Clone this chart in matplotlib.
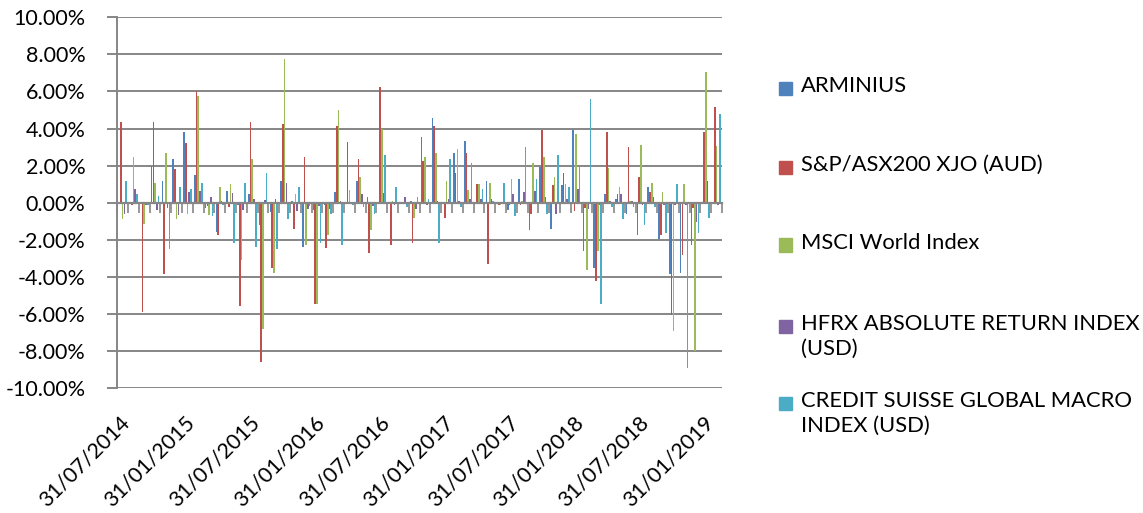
import numpy as np
import pandas as pd
import matplotlib
matplotlib.use("Agg")
import matplotlib.pyplot as plt
from matplotlib.patches import Rectangle
from matplotlib.ticker import FuncFormatter

# Monthly returns (%), month ends Jul 2014 - Feb 2019
months = pd.date_range("2014-07-31", periods=56, freq="ME")

arminius = [0.0, 0.0, 0.0, 2.0, 1.17, 2.34, 3.82, 1.5, -0.3, -1.57,
            0.65, -0.1, 0.45, -1.2, -0.49, 1.19, 0.1, -2.37, -0.4, -0.1,
            0.56, 0.0, 1.19, 0.32, 0.0, 0.0, 0.05, 0.1, 3.53, 4.55,
            0.0, 2.67, 3.31, 0.0, 1.19, 0.0, -0.4, 1.28, -1.44, 1.93,
            -1.42, 0.95, 3.93, -2.6, -3.51, 0.45, 0.23, -0.58, -1.75, 0.86,
            -1.96, -3.85, -3.76, -2.28, 0.0, 0.0]
asx200 = [4.34, -0.1, -5.88, 4.35, -3.86, 1.8, 3.2, 6.05, -0.2, -1.75,
          -0.25, -5.55, 4.35, -8.58, -3.54, 4.24, -1.42, 2.45, -5.43, -2.46,
          4.14, 3.3, 2.34, -2.68, 6.22, -2.25, 0.0, -2.16, 2.25, 4.14,
          -0.8, 1.62, 2.67, 1.0, -3.31, -0.13, -0.13, -0.1, -0.58, 3.93,
          0.95, 1.6, -0.45, -0.3, -4.2, 3.82, 0.45, 3.0, 1.4, 0.56,
          -1.75, -6.06, -2.82, -0.3, 3.82, 5.18]
msci = [-0.9, 2.45, -1.12, 1.08, 2.67, -0.9, -0.58, 5.73, -0.67, 0.86,
        1.0, -3.1, 2.34, -6.78, -3.76, 7.73, 0.45, -2.25, -5.43, -1.75,
        5.0, 0.68, 1.4, -1.47, 4.0, 0.1, 0.0, -0.8, 2.45, 2.67,
        1.19, 2.88, 0.68, 1.0, 1.08, -0.13, 1.28, 0.1, 2.16, 2.45,
        1.4, 1.0, 3.7, -3.6, -2.6, 1.85, 0.86, 0.1, 3.1, 1.08,
        0.56, -6.9, 1.0, -7.98, 7.07, 3.06]
hfrx = [-0.58, 0.77, -0.1, -0.4, -0.3, -0.67, 0.56, 0.65, 0.32, 0.1,
        0.54, -0.4, 0.23, 0.14, 0.23, 1.08, -0.45, -0.36, -0.2, -0.36,
        0.1, 0.0, 0.45, -0.16, 0.54, -0.13, 0.32, -0.36, -0.13, 0.1,
        0.23, 0.1, 0.23, 0.23, 0.23, 0.0, 0.45, 0.6, 0.65, 0.32,
        -0.58, 0.23, 0.77, -0.36, -0.1, 0.1, 0.45, 0.1, -0.1, 0.32,
        -0.1, -0.13, -0.1, -1.03, 1.19, -0.13]
cs_macro = [1.19, 0.45, -0.1, 0.36, -2.49, 0.86, 0.77, 1.08, -0.7, -0.1,
            -2.16, 1.08, -2.37, 1.62, -2.48, -0.9, 0.86, -0.2, -2.16, -0.58,
            -2.25, -0.1, -0.25, -0.58, 2.55, 0.86, -0.25, 0.32, 0.23, -2.16,
            2.34, -0.25, 2.12, 0.77, 0.1, 1.08, -0.7, 3.0, 1.28, -0.58,
            2.55, 0.86, 2.0, 5.6, -5.43, -0.25, -0.9, -0.25, -1.2, -0.25,
            -1.62, 1.0, -8.9, -1.62, -0.8, 4.77]

names = ["ARMINIUS", "S&P/ASX200 XJO (AUD)", "MSCI World Index",
         "HFRX ABSOLUTE RETURN INDEX\n(USD)",
         "CREDIT SUISSE GLOBAL MACRO\nINDEX (USD)"]
colors = ["#4F81BD", "#C0504D", "#9BBB59", "#8064A2", "#4BACC6"]
all_series = [arminius, asx200, msci, hfrx, cs_macro]

plt.rcParams["font.family"] = ["Lato", "DejaVu Sans"]
plt.rcParams["axes.unicode_minus"] = False
grey = "#868686"

fig = plt.figure(figsize=(11.43, 5.13), dpi=100)
ax = fig.add_axes([0.1026, 0.2431, 0.5290, 0.7232])

x = np.arange(len(months))
for i, (vals, c) in enumerate(zip(all_series, colors)):
    ax.bar(x + (i - 2) * 0.16, vals, width=0.15, color=c, zorder=3)

yticks = np.arange(-10, 11, 2)
ax.set_xlim(-0.5, len(months) - 0.5)
ax.set_ylim(-10, 10)
ax.set_yticks(yticks)
ax.yaxis.set_major_formatter(FuncFormatter(lambda v, p: f"{v:.2f}%"))
ax.set_axisbelow(True)
ax.yaxis.grid(True, color=grey, linewidth=1.4)

for s in ["top", "right"]:
    ax.spines[s].set_visible(False)
ax.spines["left"].set_color(grey)
ax.spines["left"].set_linewidth(1.4)
ax.spines["bottom"].set_position(("data", 0))
ax.spines["bottom"].set_color(grey)
ax.spines["bottom"].set_linewidth(1.6)
ax.spines["bottom"].set_zorder(4)

# date labels every 6 months, pushed down to the bottom of the plot
ax.set_xticks(x[::6] + 0.4, labels=[d.strftime("%d/%m/%Y") for d in months[::6]])
ax.tick_params(axis="x", which="major", length=0, pad=156, labelsize=15.5)
plt.setp(ax.get_xticklabels(), rotation=45, ha="right", va="center",
         rotation_mode="anchor")
# tick marks between months on the zero line
ax.set_xticks(np.arange(len(months) + 1) - 0.5, minor=True)
ax.tick_params(axis="x", which="minor", length=7, color=grey, width=1.2)
ax.tick_params(axis="y", length=7, color=grey, width=1.4, labelsize=15.5, pad=16)

# legend
legend_y = [88, 167, 245, 326, 403]
for name, c, y in zip(names, colors, legend_y):
    fig.patches.append(Rectangle((779 / 1143, 1 - (y + 6.5) / 513), 13 / 1143, 13 / 513,
                                 transform=fig.transFigure, color=c))
    fig.text(801 / 1143, 1 - (y - 12) / 513, name, fontsize=15.8, va="top",
             ha="left", linespacing=1.3)

fig.savefig("out.png", dpi=100)
